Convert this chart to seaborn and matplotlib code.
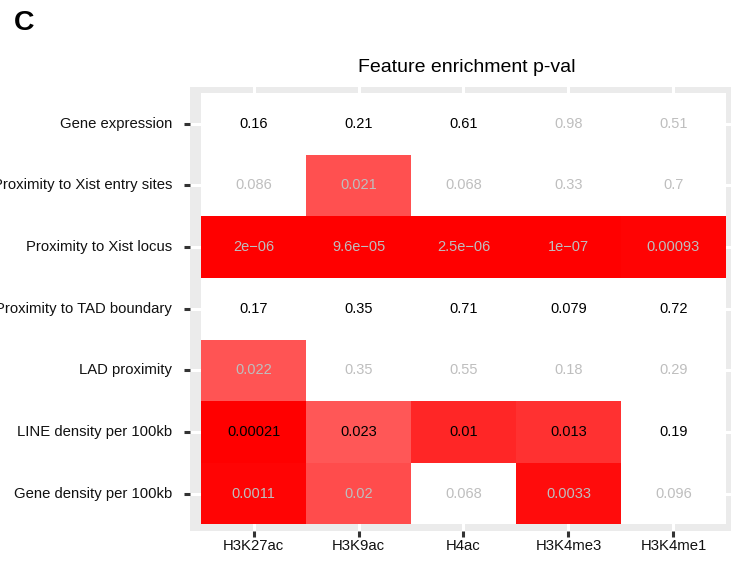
import numpy as np
import pandas as pd
import matplotlib
matplotlib.use("Agg")
import matplotlib.pyplot as plt
from matplotlib.colors import LinearSegmentedColormap
import seaborn as sns

# Histone marks (columns) and genomic features (rows)
marks = ["H3K27ac", "H3K9ac", "H4ac", "H3K4me3", "H3K4me1"]
features = [
    "Gene expression",
    "Proximity to Xist entry sites",
    "Proximity to Xist locus",
    "Proximity to TAD boundary",
    "LAD proximity",
    "LINE density per 100kb",
    "Gene density per 100kb",
]

# Enrichment p-values, one list per feature
pv_gene_expr = [0.16, 0.21, 0.61, 0.98, 0.51]
pv_xist_entry = [0.086, 0.021, 0.068, 0.33, 0.7]
pv_xist_locus = [2e-06, 9.6e-05, 2.5e-06, 1e-07, 0.00093]
pv_tad = [0.17, 0.35, 0.71, 0.079, 0.72]
pv_lad = [0.022, 0.35, 0.55, 0.18, 0.29]
pv_line = [0.00021, 0.023, 0.01, 0.013, 0.19]
pv_gene_dens = [0.0011, 0.02, 0.068, 0.0033, 0.096]

# Whether the association is positive (black label) or not (grey label)
positive_gene_expr = [True, True, True, False, False]
positive_xist_entry = [False] * 5
positive_xist_locus = [False] * 5
positive_tad = [True] * 5
positive_lad = [False] * 5
positive_line = [True] * 5
positive_gene_dens = [False] * 5

pvals = pd.DataFrame(
    [pv_gene_expr, pv_xist_entry, pv_xist_locus, pv_tad, pv_lad, pv_line, pv_gene_dens],
    index=features, columns=marks,
)
positive = np.array([positive_gene_expr, positive_xist_entry, positive_xist_locus,
                     positive_tad, positive_lad, positive_line, positive_gene_dens])

labels = pvals.map(lambda v: ("%.2g" % v).replace("-", "\u2212")).values

plt.rcParams["font.family"] = ["Liberation Sans", "DejaVu Sans"]

W, H = 732, 562
fig = plt.figure(figsize=(W / 100, H / 100), dpi=100)
ax = fig.add_axes([190 / W, 1 - 531 / H, 541 / W, 444 / H])
ax.set_facecolor("#EBEBEB")

# red for the smallest p-values, fading to white at ~0.067
cmap = LinearSegmentedColormap.from_list("pred", ["#FF0000", "#FFFFFF"])
cmap.set_over("#FFFFFF")

sns.heatmap(
    pvals, ax=ax, cmap=cmap, vmin=0, vmax=0.067, cbar=False,
    annot=labels, fmt="", annot_kws={"fontsize": 10.5},
)

for txt, pos in zip(ax.texts, positive.ravel()):
    txt.set_color("#000000" if pos else "#BEBEBE")

ax.set_xlim(-0.105, 5.048)
ax.set_ylim(7.106, -0.097)

ax.set_axisbelow(True)
ax.grid(True, color="white", linewidth=2.2)
for s in ax.spines.values():
    s.set_visible(False)

ax.set_xlabel("")
ax.set_ylabel("")
ax.tick_params(axis="both", length=4.3, width=2.2, color="#333333",
               labelsize=10.7, labelcolor="#111111")
ax.tick_params(axis="y", pad=8.6, rotation=0)
ax.tick_params(axis="x", pad=1.6, rotation=0)

fig.text(467 / W, 1 - 72 / H, "Feature enrichment p-val", ha="center",
         va="baseline", fontsize=14)
fig.text(14 / W, 1 - 30.5 / H, "C", ha="left", va="baseline",
         fontsize=20.5, fontweight="bold")

fig.savefig("out.png", dpi=100)
